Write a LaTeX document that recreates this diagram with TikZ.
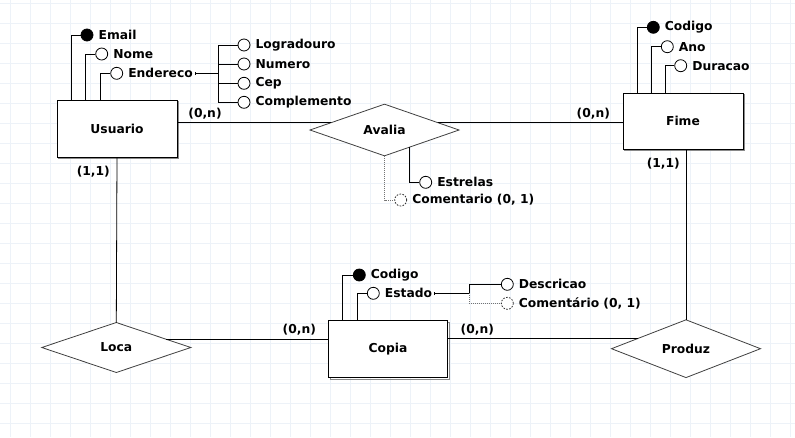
\documentclass[tikz,border=0pt]{standalone}
\usepackage{fontspec}
\setmainfont{DejaVu Sans}
\usetikzlibrary{shapes.geometric,calc,arrows.meta}
\definecolor{gridc}{HTML}{EDF2F8}
\definecolor{shadowc}{HTML}{8A8A8A}
\begin{document}
\begin{tikzpicture}[x=1pt,y=-1pt,
  every node/.style={font=\fontsize{12.3}{14}\selectfont\bfseries},
  entity/.style={draw=black,fill=white,line width=0.9pt,rectangle,inner sep=0,
    preaction={draw=shadowc,line width=1pt,transform canvas={xshift=1.5pt,yshift=-1.5pt}}},
  relation/.style={draw=black!75,fill=white,line width=0.8pt,diamond,inner sep=0,outer sep=0,
    minimum width=149pt,minimum height=50pt},
  attr/.style={circle,draw=black,fill=white,line width=0.8pt,inner sep=0,minimum size=12pt,
    label={[label distance=5pt,inner sep=0,name=#1lbl]right:\csname attrtext#1\endcsname}},
  keyattr/.style={attr=#1,fill=black},
  optattr/.style={attr=#1,dash pattern=on 1.6pt off 1.4pt,draw=black!80},
  conn/.style={draw=black,line width=0.8pt},
  optconn/.style={draw=black!55,line width=0.6pt,dash pattern=on 1pt off 1pt},
  card/.style={inner sep=0}
]
\useasboundingbox (0,0) rectangle (795,437);
\fill[white] (0,0) rectangle (795,437);
\foreach \i in {0,...,39} \draw[gridc,line width=0.8pt] (10+20*\i,0) -- (10+20*\i,437);
\foreach \j in {0,...,21} \draw[gridc,line width=0.8pt] (0,3+20*\j) -- (795,3+20*\j);

% texts
\expandafter\def\csname attrtextemail\endcsname{Email}
\expandafter\def\csname attrtextnome\endcsname{Nome}
\expandafter\def\csname attrtextendereco\endcsname{Endereco}
\expandafter\def\csname attrtextlogradouro\endcsname{Logradouro}
\expandafter\def\csname attrtextnumero\endcsname{Numero}
\expandafter\def\csname attrtextcep\endcsname{Cep}
\expandafter\def\csname attrtextcomplemento\endcsname{Complemento}
\expandafter\def\csname attrtextfcodigo\endcsname{Codigo}
\expandafter\def\csname attrtextano\endcsname{Ano}
\expandafter\def\csname attrtextduracao\endcsname{Duracao}
\expandafter\def\csname attrtextestrelas\endcsname{Estrelas}
\expandafter\def\csname attrtextcomenta\endcsname{Comentario (0, 1)}
\expandafter\def\csname attrtextccodigo\endcsname{Codigo}
\expandafter\def\csname attrtextestado\endcsname{Estado}
\expandafter\def\csname attrtextdescricao\endcsname{Descricao}
\expandafter\def\csname attrtextcomentb\endcsname{Comentário (0, 1)}

% entities and relations
\node[entity,minimum width=120pt,minimum height=57pt] (usuario) at (117,128.5) {Usuario};
\node[entity,minimum width=120pt,minimum height=56pt] (fime) at (683,121) {Fime};
\node[entity,minimum width=119pt,minimum height=57pt] (copia) at (388,349) {Copia};
\node[relation] (avalia) at (384.5,130) {Avalia};
\node[relation] (loca) at (116.3,347.5) {Loca};
\node[relation] (produz) at (686,348.7) {Produz};

% attributes
\node[keyattr=email] (email) at (87,35) {};
\node[attr=nome] (nome) at (101.7,54) {};
\node[attr=endereco] (endereco) at (116.7,73.3) {};
\node[attr=logradouro] (logradouro) at (244,45) {};
\node[attr=numero] (numero) at (244,64) {};
\node[attr=cep] (cep) at (244,83.3) {};
\node[attr=complemento] (complemento) at (244,102.3) {};
\coordinate (endj) at (218.3,73.3);

\node[keyattr=fcodigo] (fcodigo) at (653.3,27.3) {};
\node[attr=ano] (ano) at (667.3,46.7) {};
\node[attr=duracao] (duracao) at (680.7,65.7) {};

\node[attr=estrelas] (estrelas) at (425.7,182.3) {};
\node[optattr=comenta] (comenta) at (400.7,200) {};

\node[keyattr=ccodigo] (ccodigo) at (359.3,275) {};
\node[attr=estado] (estado) at (373.3,293.3) {};
\coordinate (estj) at (469,293.3);
\node[attr=descricao] (descricao) at (507.3,284.3) {};
\node[optattr=comentb] (comentb) at (507.3,303.3) {};

% attribute connectors
\draw[conn] ([xshift=-45.3pt]usuario.north) |- (email);
\draw[conn] ([xshift=-32pt]usuario.north) |- (nome);
\draw[conn] ([xshift=-16.3pt]usuario.north) |- (endereco);
\draw[conn,{Bar[width=3.5pt,line width=0.7pt]}-] ([xshift=2pt]enderecolbl.east) -- (endj);
\draw[conn] (endj) |- (logradouro);
\draw[conn] (endj) |- (numero);
\draw[conn] (endj) |- (cep);
\draw[conn] (endj) |- (complemento);

\draw[conn] ([xshift=-45.7pt]fime.north) |- (fcodigo);
\draw[conn] ([xshift=-32pt]fime.north) |- (ano);
\draw[conn] ([xshift=-17.7pt]fime.north) |- (duracao);

\draw[conn] ($(avalia.south)!0.333!(avalia.east)$) |- (estrelas);
\draw[optconn] (avalia.south) |- (comenta);

\draw[conn] ([xshift=-45.7pt]copia.north) |- (ccodigo);
\draw[conn] ([xshift=-30.7pt]copia.north) |- (estado);
\draw[conn,{Bar[width=3.5pt,line width=0.7pt]}-] ([xshift=2pt]estadolbl.east) -- (estj);
\draw[conn] (estj) |- (descricao);
\draw[optconn] (estj) |- (comentb);

% relationship connectors (kept horizontal)
\coordinate (av1) at ($(avalia.west)!0.28!(avalia.north)$);
\coordinate (av2) at ($(avalia.east)!0.28!(avalia.north)$);
\coordinate (lc1) at ($(loca.east)!0.33!(loca.north)$);
\coordinate (pz1) at ($(produz.west)!0.35!(produz.north)$);
\draw[conn] (usuario.east |- av1) -- (av1);
\draw[conn] (av2) -- (fime.west |- av2);
\draw[conn] (usuario.south) -- (loca.north);
\draw[conn] (produz.north |- fime.south) -- (produz.north);
\draw[conn] (lc1) -- (copia.west |- lc1);
\draw[conn] (copia.east |- pz1) -- (pz1);

% cardinalities
\node[card] (c1) at (205,114) {(0,n)};
\node[card] (c2) at (93.3,172) {(1,1)};
\node[card] (c3) at (593.3,113.3) {(0,n)};
\node[card] (c4) at (663.3,164) {(1,1)};
\node[card] (c5) at (299.3,330) {(0,n)};
\node[card] (c6) at (477.3,330) {(0,n)};
\end{tikzpicture}
\end{document}
